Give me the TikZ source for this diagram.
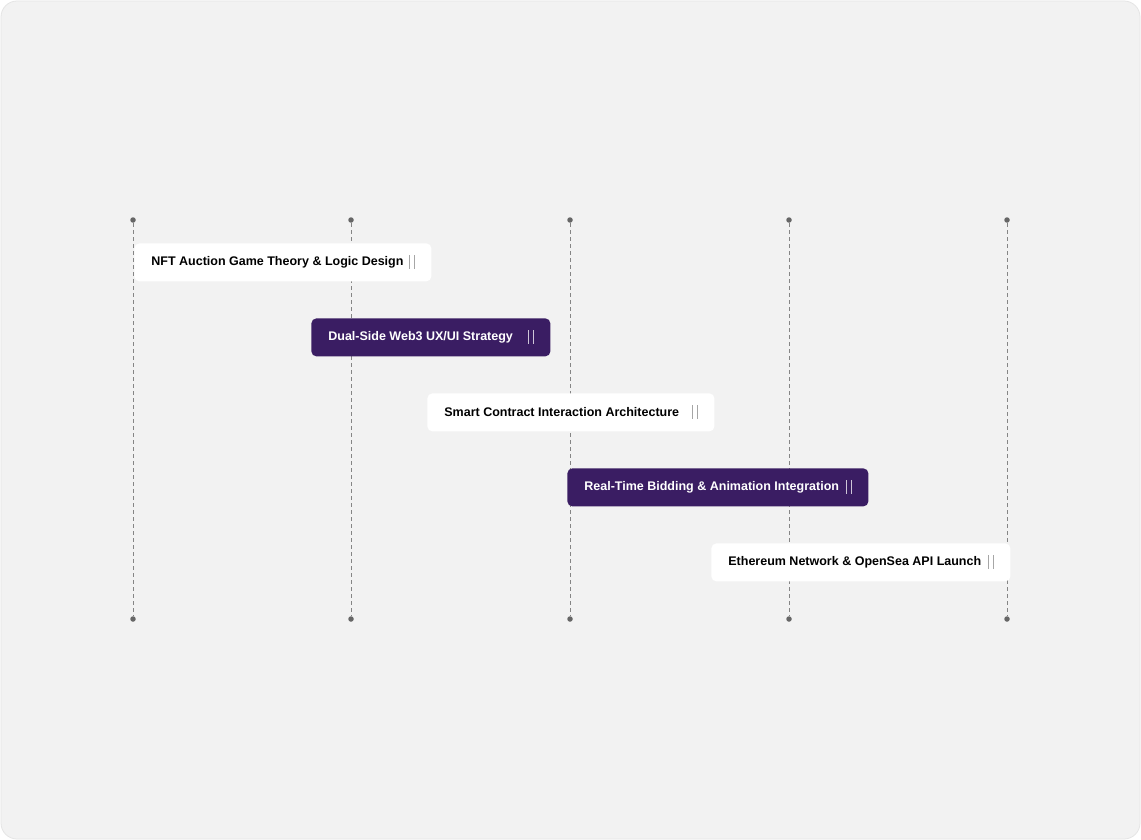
\documentclass[tikz,border=0pt]{standalone}
\usepackage{fontspec}
\setmainfont{Liberation Sans}
\definecolor{bgpanel}{HTML}{F2F2F2}
\definecolor{edgepanel}{HTML}{E4E4E4}
\definecolor{barpurple}{HTML}{3A1D63}
\definecolor{dotgray}{HTML}{666666}
\tikzset{every picture/.style={line width=0.75pt}}
\tikzset{
  dotnode/.style={circle,fill=dotgray,inner sep=0pt,minimum size=5.5pt},
  gridline/.style={draw=dotgray!80,line width=0.8pt,dash pattern=on 4pt off 3pt},
  whitebar/.style={rectangle,rounded corners=5pt,fill=white,minimum height=38pt,inner sep=0pt,anchor=north west},
  purplebar/.style={rectangle,rounded corners=5pt,fill=barpurple,minimum height=38pt,inner sep=0pt,anchor=north west},
  barlabel/.style={anchor=west,inner sep=0pt,font=\fontsize{12.5}{14}\selectfont\bfseries},
  pausemark/.style={line width=0.7pt}
}
\begin{document}
\begin{tikzpicture}[x=1pt,y=1pt,yscale=-1,xscale=1]
        \useasboundingbox (0,0) rectangle (1141,840);
        \fill[white] (0,0) rectangle (1141,840);

        %Panel
        \draw[edgepanel,fill=bgpanel,rounded corners=16pt] (1,1) rectangle (1140,839);

        %Grid dots
        \foreach \i/\x in {1/133,2/351,3/570,4/789,5/1007}{
          \node[dotnode] (t\i) at (\x,220) {};
          \node[dotnode] (b\i) at (\x,619) {};
          \draw[gridline] (t\i) -- (b\i);
        }

        %Bars
        \node[whitebar,minimum width=297pt] (p1) at (134,243) {};
        \node[purplebar,minimum width=239pt] (p2) at (311,318) {};
        \node[whitebar,minimum width=287pt] (p3) at (427,393) {};
        \node[purplebar,minimum width=301pt] (p4) at (567,468) {};
        \node[whitebar,minimum width=299pt] (p5) at (711,543) {};

        % Text Node
        \node[barlabel,text=black] (l1) at ([xshift=17pt]p1.west) {NFT Auction Game Theory \& Logic Design};
        \node[barlabel,text=white] (l2) at ([xshift=17pt]p2.west) {Dual-Side Web3 UX/UI Strategy};
        \node[barlabel,text=black] (l3) at ([xshift=17pt]p3.west) {Smart Contract Interaction Architecture};
        \node[barlabel,text=white] (l4) at ([xshift=17pt]p4.west) {Real-Time Bidding \& Animation Integration};
        \node[barlabel,text=black] (l5) at ([xshift=17pt]p5.west) {Ethereum Network \& OpenSea API Launch};

        %Pause marks
        \foreach \i/\c in {1/gray!70,2/white!75!barpurple,3/gray!70,4/white!75!barpurple,5/gray!70}{
          \draw[pausemark,\c] ([xshift=-22pt,yshift=-7pt]p\i.east) -- ([xshift=-22pt,yshift=7pt]p\i.east);
          \draw[pausemark,\c] ([xshift=-17pt,yshift=-7pt]p\i.east) -- ([xshift=-17pt,yshift=7pt]p\i.east);
        }
\end{tikzpicture}
\end{document}
